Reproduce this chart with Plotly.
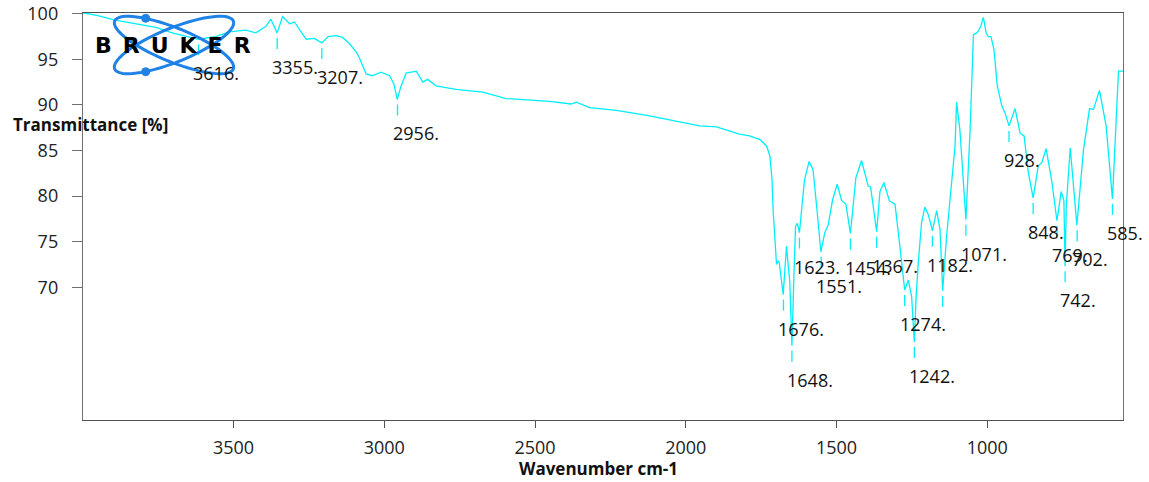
import numpy as np
import plotly.graph_objects as go

# ---------------- data ----------------
wavenumber = [3999, 3950, 3892, 3803, 3757, 3703, 3647, 3616, 3560, 3514, 3459, 3426, 3393, 3376,
              3355, 3337, 3314, 3298, 3259, 3232, 3207, 3186, 3160, 3138, 3115, 3093, 3083, 3060,
              3040, 3011, 2982, 2968, 2957, 2945, 2927, 2905, 2894, 2872, 2856, 2828, 2762, 2673,
              2596, 2452, 2380, 2363, 2319, 2230, 2120, 1954, 1898, 1822, 1788, 1754, 1732, 1721,
              1714, 1710, 1699, 1694, 1690, 1677, 1666, 1655, 1648, 1642, 1636, 1630, 1623, 1615,
              1606, 1591, 1578, 1564, 1552, 1539, 1528, 1513, 1498, 1483, 1469, 1454, 1436, 1417,
              1395, 1387, 1367, 1356, 1343, 1325, 1306, 1290, 1274, 1262, 1251, 1242, 1236, 1229,
              1218, 1207, 1196, 1182, 1168, 1157, 1148, 1135, 1118, 1107, 1102, 1091, 1071, 1063,
              1057, 1046, 1035, 1030, 1022, 1013, 1004, 997, 988, 978, 967, 952, 941, 928, 908,
              891, 878, 864, 848, 831, 819, 805, 786, 769, 755, 746, 742, 738, 725, 703, 681, 661,
              648, 628, 606, 585, 565, 550]
transmittance = [100.1, 99.8, 99.3, 98.8, 98.5, 97.9, 97.4, 97.2, 97.5, 98.0, 98.2, 97.9, 98.6, 99.4,
                 97.9, 99.7, 98.9, 99.1, 97.2, 97.3, 96.8, 97.5, 97.6, 97.4, 96.7, 95.8, 95.2, 93.4,
                 93.2, 93.6, 93.2, 92.3, 90.6, 92.0, 93.5, 93.6, 93.7, 92.5, 92.8, 92.1, 91.7, 91.4,
                 90.7, 90.4, 90.1, 90.3, 89.7, 89.4, 88.8, 87.7, 87.6, 86.8, 86.6, 86.2, 85.5, 84.4,
                 81.8, 78.2, 72.5, 72.9, 72.7, 69.2, 74.5, 70.5, 63.6, 70.5, 76.7, 77.0, 76.0, 78.8,
                 81.8, 83.8, 82.9, 78.2, 73.9, 76.0, 76.8, 79.6, 81.3, 79.5, 79.1, 75.9, 82.0, 83.9,
                 81.1, 81.0, 76.1, 80.5, 81.5, 79.5, 79.1, 74.5, 69.7, 70.8, 69.0, 64.0, 69.0, 72.7,
                 77.1, 78.8, 78.0, 76.2, 78.4, 76.4, 69.6, 75.6, 81.8, 85.5, 90.3, 87.3, 77.4, 83.3,
                 87.3, 97.7, 97.9, 98.1, 98.6, 99.6, 97.9, 97.5, 97.5, 96.1, 92.1, 89.9, 89.1, 87.7, 89.6,
                 86.9, 86.6, 82.6, 79.8, 83.3, 83.7, 85.2, 81.6, 77.3, 80.5, 79.5, 72.3, 79.0, 85.3, 76.8, 85.1, 89.6,
                 89.5, 91.6, 87.7, 79.7, 93.7, 93.7]

peak_wavenumbers = [3616, 3355, 3207, 2956, 1676, 1648, 1623, 1551, 1454, 1367, 1274, 1242,
                    1182, 1148, 1071, 928, 848, 769, 742, 702, 585]
peak_transmittance = [97.2, 97.9, 96.8, 90.6, 69.2, 63.6, 76.0, 73.9, 75.9, 76.1, 69.7, 64.0,
                      76.2, 69.6, 77.4, 87.7, 79.8, 77.3, 72.3, 76.8, 79.7]
peak_labels = ["3616.", "3355.", "3207.", "2956.", "1676.", "1648.", "1623.", "1551.", "1454.",
               "1367.", "1274.", "1242.", "1182.", "", "1071.", "928.", "848.", "769.", "742.",
               "702.", "585."]

x_tick_values = [3500, 3000, 2500, 2000, 1500, 1000]
x_tick_labels = ["3500", "3000", "2500", "2000", "1500", "1000"]
y_tick_values = [70, 75, 80, 85, 90, 95, 100]
y_tick_labels = ["70", "75", "80", "85", "90", "95", "100"]

x_title = "Wavenumber cm-1"
y_title = "Transmittance [%]"
logo_text = "B\u2002R\u2002U\u2002K\u2002E\u2002R"

# ---------------- styling ----------------
W, H = 1149, 482
ML, MR, MT, MB = 83, 26, 13, 62
PW, PH = W - ML - MR, H - MT - MB
CYAN = "rgb(0,238,250)"
FONT = "Open Sans"
LOGO_BLUE = "#1e82e6"


def px_to_paper(px, py):
    return (px - ML) / PW, (H - MB - py) / PH


fig = go.Figure()
fig.add_trace(go.Scatter(x=wavenumber, y=transmittance, mode="lines",
                         line=dict(color=CYAN, width=1.3), hoverinfo="skip", showlegend=False))

# peak marker dashes (derived from peak arrays)
px_per_unit = PH / (100.08 - 55.45)
dash_x, dash_y = [], []
for w, t in zip(peak_wavenumbers, peak_transmittance):
    dash_x += [w, w, None]
    dash_y += [t - 5 / px_per_unit, t - 16 / px_per_unit, None]
fig.add_trace(go.Scatter(x=dash_x, y=dash_y, mode="lines",
                         line=dict(color=CYAN, width=1.3), hoverinfo="skip", showlegend=False))

for w, t, lab in zip(peak_wavenumbers, peak_transmittance, peak_labels):
    if not lab:
        continue
    fig.add_annotation(x=w, y=t, text=lab, showarrow=False, xanchor="left", yanchor="middle",
                       xshift=-7, yshift=-34, font=dict(family=FONT, size=18, color="#111"))

# ---------------- logo ----------------
shapes = []
cx, cy, a, b = 174, 45, 64, 17
tt = np.linspace(0, 2 * np.pi, 73)
for ang in (22, -22):
    th = np.radians(ang)
    xs = cx + a * np.cos(tt) * np.cos(th) - b * np.sin(tt) * np.sin(th)
    ys = cy + a * np.cos(tt) * np.sin(th) + b * np.sin(tt) * np.cos(th)
    pts = [px_to_paper(x, y) for x, y in zip(xs, ys)]
    path = "M " + " L ".join(f"{p[0]:.5f},{p[1]:.5f}" for p in pts) + " Z"
    shapes.append(dict(type="path", path=path, xref="paper", yref="paper",
                       line=dict(color=LOGO_BLUE, width=3), layer="above"))
for dx, dy in ((145.7, 18.3), (145.7, 71.7)):
    x0, y0 = px_to_paper(dx - 4, dy + 4)
    x1, y1 = px_to_paper(dx + 4, dy - 4)
    shapes.append(dict(type="circle", xref="paper", yref="paper", x0=x0, y0=y0, x1=x1, y1=y1,
                       fillcolor=LOGO_BLUE, line=dict(color=LOGO_BLUE, width=1), layer="above"))

lx, ly = px_to_paper(173, 46)
fig.add_annotation(x=lx, y=ly, xref="paper", yref="paper", text=f"<b>{logo_text}</b>",
                   showarrow=False, xanchor="center", yanchor="middle",
                   font=dict(family="DejaVu Sans", size=22, color="#000"))

# y-axis title (horizontal, top-left)
tx, ty = px_to_paper(11, 125)
fig.add_annotation(x=tx, y=ty, xref="paper", yref="paper", text=f"<b>{y_title}</b>",
                   showarrow=False, xanchor="left", yanchor="middle",
                   font=dict(family=FONT, size=17, color="#111"))

# x-axis title
xtx, xty = px_to_paper(598, 468)
fig.add_annotation(x=xtx, y=xty, xref="paper", yref="paper", text=f"<b>{x_title}</b>",
                   showarrow=False, xanchor="center", yanchor="middle",
                   font=dict(family=FONT, size=17, color="#111"))

fig.update_layout(
    width=W, height=H,
    margin=dict(l=ML, r=MR, t=MT, b=MB, pad=0, autoexpand=False),
    paper_bgcolor="white", plot_bgcolor="white",
    shapes=shapes,
    showlegend=False,
    xaxis=dict(range=[3999, 550], tickvals=x_tick_values, ticktext=x_tick_labels,
               automargin=False,
               showgrid=False, zeroline=False, showline=True, mirror=True,
               linecolor="#505050", linewidth=1.4, ticks="outside", ticklen=7,
               tickcolor="#505050", tickwidth=1.2, ticklabelstandoff=4,
               tickfont=dict(family=FONT, size=18, color="#222")),
    yaxis=dict(range=[55.45, 100.08], tickvals=y_tick_values, ticktext=y_tick_labels,
               automargin=False,
               showgrid=False, zeroline=False, showline=True, mirror=True,
               linecolor="#707070", linewidth=1.4, ticks="outside", ticklen=10,
               tickcolor="#707070", tickwidth=1.2, ticklabelstandoff=10,
               tickfont=dict(family=FONT, size=18, color="#222")),
)

fig.write_html("out.html")
